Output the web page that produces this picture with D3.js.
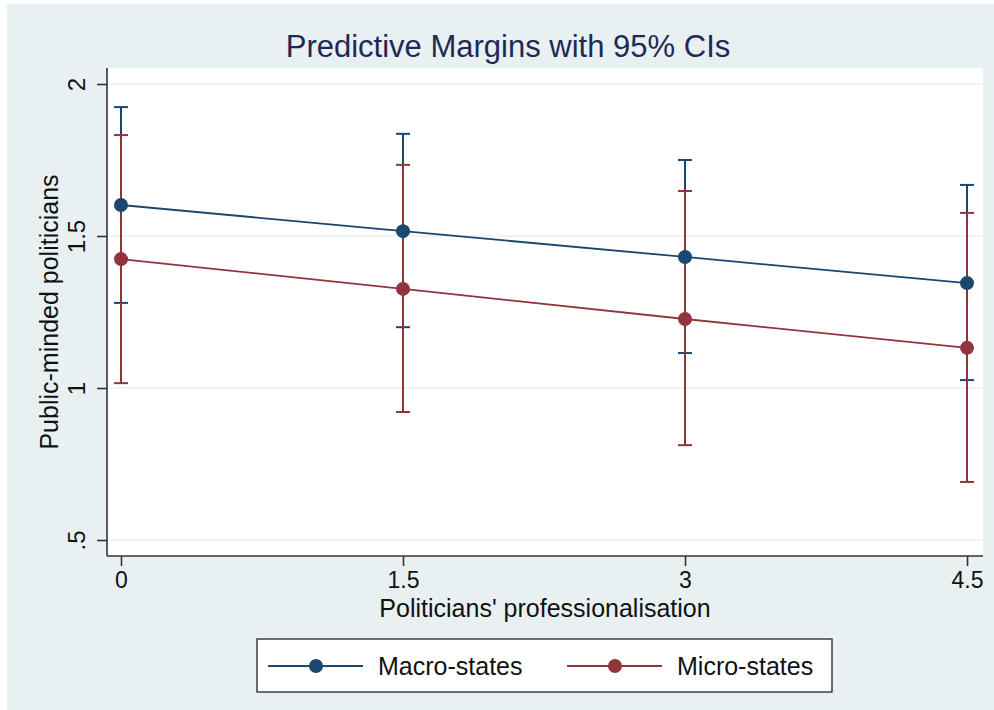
<!DOCTYPE html>
<html>
<head>
<meta charset="utf-8">
<script src="https://cdn.jsdelivr.net/npm/d3@7"></script>
<style>
  html, body { margin: 0; padding: 0; background: #ffffff; }
  svg { display: block; }
  text { font-family: "Liberation Sans", Arial, Helvetica, sans-serif; }
</style>
</head>
<body>
<script>
// Predictive margins of public-mindedness by professionalisation level
const xValues = [0, 1.5, 3, 4.5];
const xTickLabels = ["0", "1.5", "3", "4.5"];
const yTicks = [0.5, 1, 1.5, 2];
const yTickLabels = [".5", "1", "1.5", "2"];

const macroMargin = [1.602, 1.516, 1.431, 1.345];
const macroLower  = [1.280, 1.200, 1.115, 1.026];
const macroUpper  = [1.924, 1.836, 1.750, 1.668];

const microMargin = [1.424, 1.326, 1.227, 1.132];
const microLower  = [1.016, 0.921, 0.812, 0.691];
const microUpper  = [1.832, 1.734, 1.648, 1.576];

const seriesNames = ["Macro-states", "Micro-states"];
const seriesColors = ["#1a476f", "#90353b"];

const W = 994, H = 710;
const plot = { left: 107, right: 983, top: 68, bottom: 556 };

const svg = d3.select("body").append("svg").attr("width", W).attr("height", H);

// outer graph region
svg.append("rect").attr("x", 7).attr("y", 4).attr("width", W - 7).attr("height", H - 4)
  .attr("fill", "#e8f0f2");

// plot region
svg.append("rect").attr("x", plot.left).attr("y", plot.top)
  .attr("width", plot.right - plot.left).attr("height", plot.bottom - plot.top)
  .attr("fill", "#ffffff");

const x = d3.scaleLinear().domain([-0.0745, 4.585]).range([plot.left, plot.right]);
const y = d3.scaleLinear().domain([0.4474, 2.0526]).range([plot.bottom, plot.top]);

// horizontal gridlines
svg.append("g").selectAll("line").data(yTicks).join("line")
  .attr("x1", plot.left).attr("x2", plot.right)
  .attr("y1", d => y(d)).attr("y2", d => y(d))
  .attr("stroke", "#eaf2f3").attr("stroke-width", 1.6);

// y axis
const yAxis = d3.axisLeft(y).tickValues(yTicks)
  .tickFormat((d, i) => yTickLabels[i]).tickSize(10).tickPadding(0);
const gy = svg.append("g").attr("transform", `translate(${plot.left},0)`).call(yAxis);
gy.select(".domain").attr("stroke", "#333333").attr("stroke-width", 1.6)
  .attr("d", `M0,${plot.top}V${plot.bottom}`);
gy.selectAll(".tick line").attr("stroke", "#333333").attr("stroke-width", 1.6);
gy.selectAll(".tick text")
  .attr("transform", "translate(-22,0) rotate(-90)")
  .attr("x", 0).attr("dy", 0).attr("text-anchor", "middle")
  .attr("font-size", 24).attr("fill", "#111111");

// x axis
const xAxis = d3.axisBottom(x).tickValues(xValues)
  .tickFormat((d, i) => xTickLabels[i]).tickSize(10).tickPadding(0);
const gx = svg.append("g").attr("transform", `translate(0,${plot.bottom})`).call(xAxis);
gx.select(".domain").attr("stroke", "#333333").attr("stroke-width", 1.6)
  .attr("d", `M${plot.left},0H${plot.right}`);
gx.selectAll(".tick line").attr("stroke", "#333333").attr("stroke-width", 1.6);
gx.selectAll(".tick text").attr("y", 32).attr("dy", 0)
  .attr("font-size", 23).attr("fill", "#111111");

// confidence intervals
const series = [
  { name: seriesNames[0], color: seriesColors[0], m: macroMargin, lo: macroLower, hi: macroUpper },
  { name: seriesNames[1], color: seriesColors[1], m: microMargin, lo: microLower, hi: microUpper }
];
const capHalf = 7;
series.forEach(s => {
  const g = svg.append("g");
  xValues.forEach((xv, i) => {
    g.append("line").attr("x1", x(xv)).attr("x2", x(xv))
      .attr("y1", y(s.lo[i])).attr("y2", y(s.hi[i]))
      .attr("stroke", s.color).attr("stroke-width", 2);
    [s.lo[i], s.hi[i]].forEach(v => {
      g.append("line").attr("x1", x(xv) - capHalf).attr("x2", x(xv) + capHalf)
        .attr("y1", y(v)).attr("y2", y(v))
        .attr("stroke", s.color).attr("stroke-width", 2);
    });
  });
});

// margin lines and markers
const line = d3.line().x(d => x(d[0])).y(d => y(d[1]));
series.forEach(s => {
  const pts = xValues.map((xv, i) => [xv, s.m[i]]);
  svg.append("path").datum(pts).attr("d", line)
    .attr("fill", "none").attr("stroke", s.color).attr("stroke-width", 1.8);
  svg.append("g").selectAll("circle").data(pts).join("circle")
    .attr("cx", d => x(d[0])).attr("cy", d => y(d[1])).attr("r", 7)
    .attr("fill", s.color);
});

// title
svg.append("text").attr("x", 508).attr("y", 57)
  .attr("text-anchor", "middle").attr("font-size", 31).attr("fill", "#1e2a55")
  .text("Predictive Margins with 95% CIs");

// axis titles
svg.append("text").attr("x", (plot.left + plot.right) / 2).attr("y", 617)
  .attr("text-anchor", "middle").attr("font-size", 25).attr("fill", "#111111")
  .text("Politicians' professionalisation");
svg.append("text")
  .attr("transform", `translate(58,${(plot.top + plot.bottom) / 2}) rotate(-90)`)
  .attr("text-anchor", "middle").attr("font-size", 25).attr("fill", "#111111")
  .text("Public-minded politicians");

// legend
const leg = svg.append("g");
leg.append("rect").attr("x", 257).attr("y", 639).attr("width", 575).attr("height", 53)
  .attr("fill", "#ffffff").attr("stroke", "#333333").attr("stroke-width", 1.4);
const legItems = [
  { x0: 268, tx: 378 },
  { x0: 567, tx: 677 }
];
series.forEach((s, i) => {
  const it = legItems[i];
  leg.append("line").attr("x1", it.x0).attr("x2", it.x0 + 95)
    .attr("y1", 666).attr("y2", 666).attr("stroke", s.color).attr("stroke-width", 2);
  leg.append("circle").attr("cx", it.x0 + 48).attr("cy", 666).attr("r", 7).attr("fill", s.color);
  leg.append("text").attr("x", it.tx).attr("y", 675)
    .attr("font-size", 25).attr("fill", "#111111").text(s.name);
});
</script>
</body>
</html>
